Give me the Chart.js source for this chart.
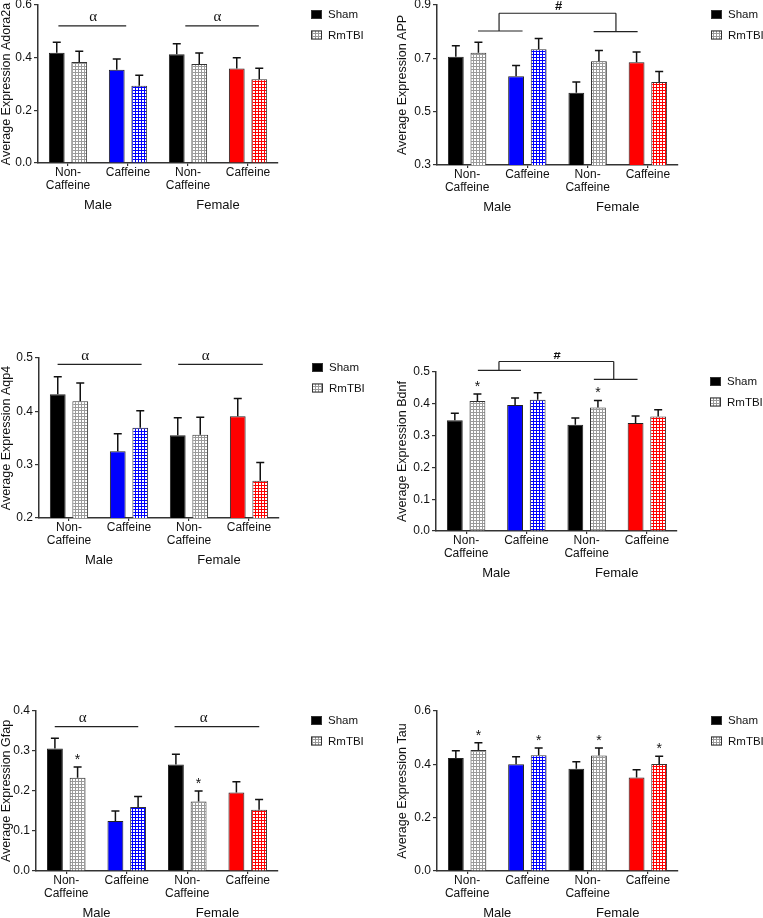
<!DOCTYPE html>
<html>
<head>
<meta charset="utf-8">
<script src="https://cdn.jsdelivr.net/npm/chart.js@4.4.0/dist/chart.umd.min.js"></script>
<style>
  html, body { margin: 0; padding: 0; background: #fff; width: 763px; height: 918px; overflow: hidden; position: relative; }
  canvas { position: absolute; }
</style>
</head>
<body>
<canvas id="adora"></canvas>
<canvas id="app"></canvas>
<canvas id="aqp4"></canvas>
<canvas id="bdnf"></canvas>
<canvas id="gfap"></canvas>
<canvas id="tau"></canvas>
<script>
// groups on the x axis, and the sex row under them
const groups = [['Non-', 'Caffeine'], 'Caffeine', ['Non-', 'Caffeine'], 'Caffeine'];
const sexes = ['Male', 'Female'];

// colours per group (Sham solid, RmTBI hatched)
const shamColors = ['#000000', '#0000ff', '#000000', '#ff0000'];
const tbiColors = ['#9a9a9a', '#0000ff', '#9a9a9a', '#ff0000'];

// Adora2a
const adoraTicks = [0.0, 0.2, 0.4, 0.6];
const adoraSham = [0.419, 0.354, 0.413, 0.359];
const adoraShamErr = [0.040, 0.041, 0.040, 0.041];
const adoraTbi = [0.384, 0.293, 0.376, 0.318];
const adoraTbiErr = [0.040, 0.040, 0.042, 0.042];

// APP
const appTicks = [0.3, 0.5, 0.7, 0.9];
const appSham = [0.706, 0.633, 0.571, 0.685];
const appShamErr = [0.041, 0.040, 0.040, 0.039];
const appTbi = [0.721, 0.734, 0.689, 0.611];
const appTbiErr = [0.039, 0.040, 0.040, 0.040];

// Aqp4
const aqpTicks = [0.2, 0.3, 0.4, 0.5];
const aqpSham = [0.432, 0.325, 0.355, 0.391];
const aqpShamErr = [0.033, 0.033, 0.033, 0.033];
const aqpTbi = [0.419, 0.369, 0.356, 0.270];
const aqpTbiErr = [0.034, 0.032, 0.033, 0.034];

// Bdnf
const bdnfTicks = [0.0, 0.1, 0.2, 0.3, 0.4, 0.5];
const bdnfSham = [0.348, 0.396, 0.334, 0.340];
const bdnfShamErr = [0.022, 0.022, 0.021, 0.022];
const bdnfTbi = [0.409, 0.413, 0.388, 0.360];
const bdnfTbiErr = [0.022, 0.022, 0.022, 0.021];
const bdnfStars = [1, 0, 1, 0];

// Gfap
const gfapTicks = [0.0, 0.1, 0.2, 0.3, 0.4];
const gfapSham = [0.306, 0.125, 0.266, 0.196];
const gfapShamErr = [0.026, 0.025, 0.026, 0.027];
const gfapTbi = [0.233, 0.160, 0.174, 0.153];
const gfapTbiErr = [0.027, 0.026, 0.026, 0.026];
const gfapStars = [1, 0, 1, 0];

// Tau
const tauTicks = [0.0, 0.2, 0.4, 0.6];
const tauSham = [0.424, 0.400, 0.383, 0.351];
const tauShamErr = [0.027, 0.028, 0.027, 0.029];
const tauTbi = [0.454, 0.434, 0.433, 0.401];
const tauTbiErr = [0.027, 0.027, 0.028, 0.029];
const tauStars = [1, 1, 1, 1];

Chart.defaults.font.family = '"Liberation Sans", Arial, sans-serif';
Chart.defaults.font.size = 12;
Chart.defaults.color = '#111';

function hatch(color) {
  const c = document.createElement('canvas');
  c.width = 3; c.height = 3;
  const g = c.getContext('2d');
  g.fillStyle = color; g.fillRect(0, 0, 3, 3);
  g.fillStyle = '#fff'; g.fillRect(1, 1, 2, 2);
  return g.createPattern(c, 'repeat');
}

// error bars (upper only) + asterisks
const errorBars = {
  id: 'errorBars',
  afterDatasetsDraw(chart) {
    const ctx = chart.ctx, y = chart.scales.y;
    ctx.save();
    ctx.strokeStyle = '#111';
    ctx.lineWidth = 1.5;
    ctx.fillStyle = '#111';
    ctx.font = '14px "Liberation Sans", Arial, sans-serif';
    ctx.textAlign = 'center';
    ctx.textBaseline = 'middle';
    chart.data.datasets.forEach((ds, i) => {
      chart.getDatasetMeta(i).data.forEach((bar, j) => {
        const top = y.getPixelForValue(ds.data[j] + ds.errors[j]);
        ctx.beginPath();
        ctx.moveTo(bar.x, bar.y);
        ctx.lineTo(bar.x, top);
        ctx.moveTo(bar.x - 4, top);
        ctx.lineTo(bar.x + 4, top);
        ctx.stroke();
        if (ds.stars && ds.stars[j]) ctx.fillText('*', bar.x, top - 7);
      });
    });
    ctx.restore();
  }
};

// legend to the right of the plot
const sideLegend = {
  id: 'sideLegend',
  afterDraw(chart) {
    const ctx = chart.ctx, area = chart.chartArea;
    const x = area.right + 33;
    ctx.save();
    chart.data.datasets.forEach((ds, i) => {
      const y = area.top + 5 + i * 20.5;
      ctx.fillStyle = ds.legendFill;
      ctx.fillRect(x, y, 11, 9);
      ctx.strokeStyle = '#333';
      ctx.lineWidth = 1;
      ctx.strokeRect(x + 0.5, y + 0.5, 10, 8);
      ctx.fillStyle = '#111';
      ctx.font = '11.5px "Liberation Sans", Arial, sans-serif';
      ctx.textBaseline = 'middle';
      ctx.fillText(ds.label, x + 17, y + 5);
    });
    ctx.restore();
  }
};

// significance lines and symbols, in (category index, value) units
function sigMarks(marks) {
  return {
    id: 'sigMarks',
    afterDraw(chart) {
      const ctx = chart.ctx, x = chart.scales.x, y = chart.scales.y;
      ctx.save();
      ctx.strokeStyle = '#222';
      ctx.lineWidth = 1.2;
      ctx.beginPath();
      marks.lines.forEach(([a, va, b, vb]) => {
        ctx.moveTo(x.getPixelForValue(a), y.getPixelForValue(va));
        ctx.lineTo(x.getPixelForValue(b), y.getPixelForValue(vb));
      });
      ctx.stroke();
      ctx.fillStyle = '#111';
      ctx.textAlign = 'center';
      ctx.textBaseline = 'middle';
      marks.labels.forEach(([t, a, v]) => {
        ctx.font = t === 'α' ? '15px "Liberation Serif", "DejaVu Serif", serif' : 'bold 13px "Liberation Sans", Arial, sans-serif';
        ctx.fillText(t, x.getPixelForValue(a), y.getPixelForValue(v));
      });
      ctx.restore();
    }
  };
}

function panel(p) {
  const cv = document.getElementById(p.id);
  cv.width = p.w; cv.height = p.h;
  cv.style.left = p.left + 'px';
  cv.style.top = p.top + 'px';
  const ticks = p.ticks;
  new Chart(cv, {
    type: 'bar',
    data: {
      labels: groups,
      datasets: [
        { label: 'Sham', data: p.sham, errors: p.shamErr, backgroundColor: shamColors,
          borderColor: '#222', borderWidth: 1, legendFill: '#000' },
        { label: 'RmTBI', data: p.tbi, errors: p.tbiErr, stars: p.stars, backgroundColor: tbiColors.map(hatch),
          borderColor: '#333', borderWidth: 1, legendFill: hatch('#9a9a9a') }
      ]
    },
    options: {
      responsive: false,
      animation: false,
      devicePixelRatio: 1,
      events: [],
      categoryPercentage: 0.75,
      barPercentage: 0.7,
      layout: { padding: { top: 20, left: p.padL, right: p.padR, bottom: 5 } },
      plugins: { legend: { display: false }, tooltip: { enabled: false } },
      scales: {
        x: {
          offset: true,
          weight: 0,
          grid: { display: true, drawOnChartArea: false, offset: false, tickLength: 3, color: '#333', lineWidth: 1.2 },
          border: { color: '#333', width: 1.5 },
          ticks: { padding: 0, font: { size: 12, lineHeight: 1.1 }, maxRotation: 0, autoSkip: false },
          afterFit: s => { s.height = 29; }
        },
        x2: {
          type: 'category',
          labels: sexes,
          position: 'bottom',
          offset: true,
          weight: 1,
          grid: { display: false, drawTicks: false },
          border: { display: false },
          ticks: { padding: 7, font: { size: 13, lineHeight: 1 }, maxRotation: 0 },
          afterFit: s => { s.height = 21; }
        },
        y: {
          min: ticks[0],
          max: ticks[ticks.length - 1],
          afterBuildTicks: s => { s.ticks = ticks.map(v => ({ value: v })); },
          ticks: { padding: 2, callback: v => v.toFixed(1) },
          grid: { drawOnChartArea: false, tickLength: 4, color: '#333', lineWidth: 1.2 },
          border: { color: '#333', width: 1.5 },
          title: { display: true, text: p.title, padding: 0, font: { size: 12.5, lineHeight: 1 } },
          afterFit: s => { s.width = p.yW; }
        }
      }
    },
    plugins: [errorBars, sideLegend, sigMarks(p.marks)]
  });
}

const noMarks = { lines: [], labels: [] };

panel({ id: 'adora', left: 0, top: -15, w: 380, h: 233, padL: 0, yW: 38, padR: 102,
  title: 'Average Expression Adora2a', ticks: adoraTicks,
  sham: adoraSham, shamErr: adoraShamErr, tbi: adoraTbi, tbiErr: adoraTbiErr,
  marks: { lines: [[-0.16, 0.521, 0.97, 0.521], [1.955, 0.521, 3.18, 0.521]],
           labels: [['α', 0.42, 0.553], ['α', 2.49, 0.553]] } });

panel({ id: 'app', left: 380, top: -15, w: 383, h: 235, padL: 16, yW: 41, padR: 85,
  title: 'Average Expression APP', ticks: appTicks,
  sham: appSham, shamErr: appShamErr, tbi: appTbi, tbiErr: appTbiErr,
  marks: { lines: [[0.18, 0.8025, 0.92, 0.8025], [0.53, 0.8025, 0.53, 0.869], [0.53, 0.869, 2.47, 0.869],
                   [2.47, 0.869, 2.47, 0.80], [2.1, 0.80, 2.83, 0.80]],
           labels: [['#', 1.52, 0.893]] } });

panel({ id: 'aqp4', left: 0, top: 338, w: 380, h: 235, padL: 0, yW: 39, padR: 101,
  title: 'Average Expression Aqp4', ticks: aqpTicks,
  sham: aqpSham, shamErr: aqpShamErr, tbi: aqpTbi, tbiErr: aqpTbiErr,
  marks: { lines: [[-0.19, 0.488, 1.21, 0.488], [1.82, 0.488, 3.23, 0.488]],
           labels: [['α', 0.27, 0.503], ['α', 2.28, 0.503]] } });

panel({ id: 'bdnf', left: 380, top: 352, w: 383, h: 234, padL: 16, yW: 40, padR: 86,
  title: 'Average Expression Bdnf', ticks: bdnfTicks,
  sham: bdnfSham, shamErr: bdnfShamErr, tbi: bdnfTbi, tbiErr: bdnfTbiErr, stars: bdnfStars,
  marks: { lines: [[0.195, 0.505, 0.91, 0.505], [0.545, 0.505, 0.545, 0.533], [0.545, 0.533, 2.45, 0.533],
                   [2.45, 0.533, 2.45, 0.477], [2.12, 0.477, 2.845, 0.477]],
           labels: [['#', 1.51, 0.551]] } });

panel({ id: 'gfap', left: 0, top: 691, w: 380, h: 235, padL: 0, yW: 36, padR: 102,
  title: 'Average Expression Gfap', ticks: gfapTicks,
  sham: gfapSham, shamErr: gfapShamErr, tbi: gfapTbi, tbiErr: gfapTbiErr, stars: gfapStars,
  marks: { lines: [[-0.19, 0.361, 1.19, 0.361], [1.79, 0.361, 3.19, 0.361]],
           labels: [['α', 0.27, 0.382], ['α', 2.27, 0.382]] } });

panel({ id: 'tau', left: 380, top: 691, w: 383, h: 235, padL: 16, yW: 41, padR: 85,
  title: 'Average Expression Tau', ticks: tauTicks,
  sham: tauSham, shamErr: tauShamErr, tbi: tauTbi, tbiErr: tauTbiErr, stars: tauStars,
  marks: noMarks });
</script>
</body>
</html>
